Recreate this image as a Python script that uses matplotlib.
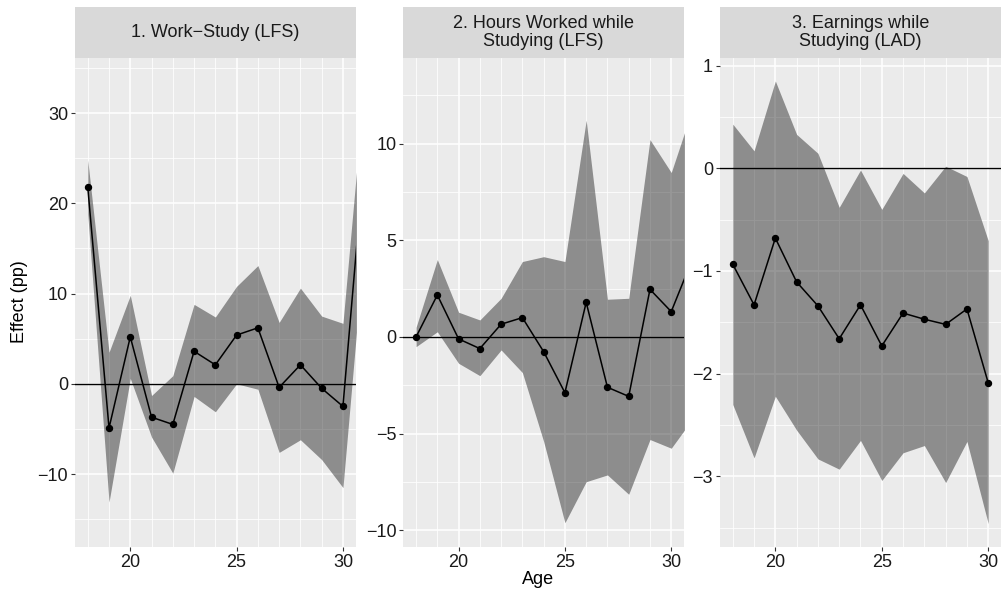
import numpy as np
import matplotlib.pyplot as plt

plt.rcParams['font.family'] = ['Liberation Sans', 'DejaVu Sans']

ages = np.arange(18, 32)
ages3 = np.arange(18, 31)

# 1. Work-Study (LFS)
ws_est = [21.8, -4.9, 5.2, -3.7, -4.5, 3.6, 2.1, 5.4, 6.2, -0.4, 2.1, -0.5, -2.5, 25.0]
ws_hi = [24.8, 3.5, 9.8, -1.3, 0.9, 8.8, 7.4, 10.8, 13.1, 6.8, 10.6, 7.5, 6.7, 33.0]
ws_lo = [18.8, -13.1, 0.6, -5.9, -9.9, -1.4, -3.1, 0.0, -0.6, -7.6, -6.2, -8.4, -11.5, 15.5]

# 2. Hours worked while studying (LFS)
hr_est = [0.0, 2.17, -0.1, -0.6, 0.66, 1.0, -0.76, -2.88, 1.79, -2.6, -3.07, 2.46, 1.31, 4.04]
hr_hi = [0.5, 4.0, 1.28, 0.88, 2.0, 3.9, 4.15, 3.9, 11.2, 1.95, 2.0, 10.2, 8.5, 11.8]
hr_lo = [-0.5, 0.27, -1.36, -2.0, -0.67, -1.84, -5.4, -9.6, -7.48, -7.13, -8.13, -5.3, -5.75, -4.24]

# 3. Earnings while studying (LAD)
ea_est = [-0.935, -1.33, -0.68, -1.107, -1.34, -1.66, -1.33, -1.73, -1.41, -1.47, -1.52, -1.37, -2.09]
ea_hi = [0.43, 0.17, 0.85, 0.33, 0.146, -0.38, -0.017, -0.40, -0.05, -0.24, 0.02, -0.08, -0.705]
ea_lo = [-2.30, -2.82, -2.22, -2.55, -2.83, -2.93, -2.65, -3.04, -2.77, -2.70, -3.06, -2.66, -3.46]

titles = ['1. Work\u2212Study (LFS)',
          '2. Hours Worked while\nStudying (LFS)',
          '3. Earnings while\nStudying (LAD)']
yticks = [[-10, 0, 10, 20, 30], [-10, -5, 0, 5, 10], [-3, -2, -1, 0, 1]]
yminor = [[-15, -5, 5, 15, 25, 35], [-7.5, -2.5, 2.5, 7.5, 12.5],
          [-3.5, -2.5, -1.5, -0.5, 0.5]]
ylims = [(-18.05, 36.1), (-10.84, 14.42), (-3.685, 1.074)]

W, H = 1003, 597
fig = plt.figure(figsize=(W / 100, H / 100), dpi=100)


def box(l, t, r, b):
    return [l / W, 1 - b / H, (r - l) / W, (b - t) / H]


panels = [(75, 355.7), (403.3, 684), (720, 1001)]
top, strip_top, bottom = 58, 7, 546.7
series = [(ages, ws_est, ws_lo, ws_hi), (ages, hr_est, hr_lo, hr_hi),
          (ages3, ea_est, ea_lo, ea_hi)]

for i, (l, r) in enumerate(panels):
    ax = fig.add_axes(box(l, top, r, bottom))
    ax.set_facecolor('#EBEBEB')
    for s in ax.spines.values():
        s.set_visible(False)

    x, est, lo, hi = series[i]
    ax.set_xlim(17.4, 30.6)
    ax.set_ylim(*ylims[i])
    ax.set_xticks([20, 25, 30])
    ax.set_xticks([a for a in range(18, 31) if a % 5], minor=True)
    ax.set_yticks(yticks[i])
    ax.set_yticks(yminor[i], minor=True)
    ax.grid(which='major', color='white', lw=1.15)
    ax.grid(which='minor', color='white', lw=0.55)
    ax.set_axisbelow(True)
    ax.tick_params(which='major', length=3, width=0.8, color='#333333',
                   labelsize=13, labelcolor='#1A1A1A', pad=2)
    ax.tick_params(which='minor', length=0)

    ax.fill_between(x, lo, hi, color='black', alpha=0.4, lw=0, zorder=2)
    ax.axhline(0, color='black', lw=1.0, zorder=3)
    ax.plot(x, est, color='black', lw=1.1, zorder=4)
    ax.plot(x, est, 'o', color='black', ms=4.3, zorder=5)

    # facet strip
    sx = fig.add_axes(box(l, strip_top, r, top))
    sx.set_facecolor('#D9D9D9')
    sx.set_xticks([])
    sx.set_yticks([])
    for s in sx.spines.values():
        s.set_visible(False)
    sx.text(0.5, 0.5, titles[i], ha='center', va='center', fontsize=13,
            color='#1A1A1A', linespacing=1.05, transform=sx.transAxes)

fig.text(538 / W, 1 - 580 / H, 'Age', ha='center', va='center', fontsize=13)
fig.text(20 / W, 1 - 302 / H, 'Effect (pp)', ha='center', va='center',
         rotation=90, fontsize=13)

fig.savefig('out.png', dpi=100)
